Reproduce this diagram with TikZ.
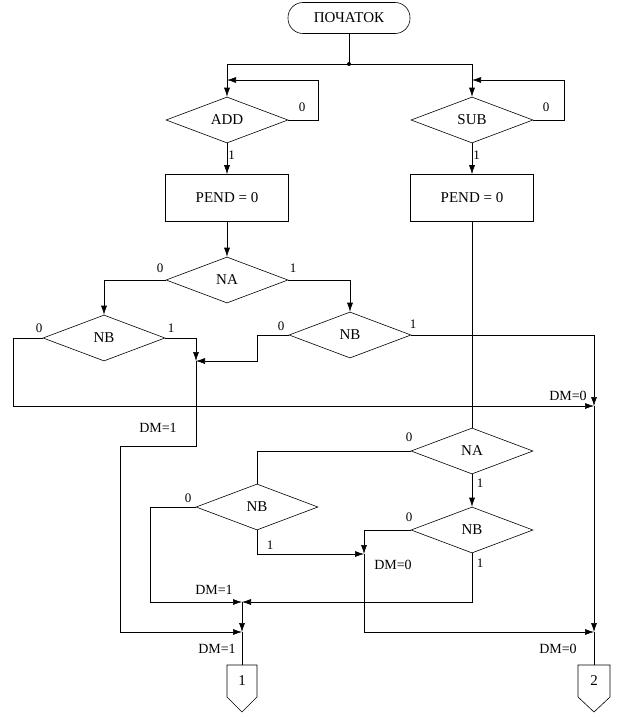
\documentclass[tikz,border=0pt]{standalone}
\usepackage{fontspec}
\setmainfont{Liberation Serif}
\usetikzlibrary{shapes,arrows.meta}

\tikzset{
  dec/.style={diamond, draw, aspect=2.6, inner sep=0pt, minimum width=122pt, minimum height=46pt},
  blok/.style={rectangle, draw, minimum width=123pt, minimum height=47pt},
  term/.style={rectangle, rounded corners=15pt, draw, minimum width=122pt, minimum height=31pt},
  lbl/.style={font=\fontsize{13}{15}\selectfont, inner sep=1pt},
  dm/.style={font=\fontsize{14}{16}\selectfont, inner sep=1pt}
}

\begin{document}
\begin{tikzpicture}[x=1pt,y=-1pt,line width=.6pt,>={Latex[length=9pt,width=6pt]},
    every node/.style={font=\fontsize{15}{17}\selectfont}]
    \useasboundingbox (0,0) rectangle (623,717);
    \node[term] (start) at (349,18) {ПОЧАТОК};
    \node[dec] (add) at (227,120) {ADD};
    \node[dec] (sub) at (472,120) {SUB};
    \node[blok] (pendA) at (227,198) {PEND = 0};
    \node[blok] (pendS) at (472,198) {PEND = 0};
    \node[dec] (naA) at (227,280) {NA};
    \node[dec] (nbL) at (104,338) {NB};
    \node[dec] (nbR) at (350,335) {NB};
    \node[dec] (naS) at (472,451) {NA};
    \node[dec] (nbM) at (257,507) {NB};
    \node[dec] (nbS) at (472,530) {NB};
    % junctions
    \coordinate (j0) at (349,64);
    \coordinate (addL) at (227,80);
    \coordinate (subL) at (472,80);
    \coordinate (jL) at (196,361);
    \coordinate (jR) at (594,406);
    \coordinate (jM) at (364,554);
    \coordinate (j1a) at (242,602);
    \coordinate (j1b) at (242,632);
    \coordinate (j2) at (594,632);
    \coordinate (k1) at (242,665);
    \coordinate (k2) at (594,665);
    % top
    \draw (start) -- (j0);
    \fill (j0) circle (2pt);
    \draw[->] (j0) -| (add.north);
    \draw[->] (j0) -| (sub.north);
    \draw[->] (add.east) -- (318,120) |- (addL);
    \draw[->] (sub.east) -- (564,120) |- (subL);
    \node[lbl] (z1) at (302,107) {0};
    \node[lbl] (z2) at (546,107) {0};
    \draw[->] (add.south) -- node[lbl,right,pos=.4] (o1) {1} (pendA.north);
    \draw[->] (sub.south) -- node[lbl,right,pos=.4] (o2) {1} (pendS.north);
    % left branch
    \draw[->] (pendA.south) -- (naA.north);
    \draw[->] (naA.west) -| (nbL.north);
    \draw[->] (naA.east) -| (nbR.north);
    \node[lbl] (z3) at (160,268) {0};
    \node[lbl] (o3) at (293,268) {1};
    \draw[->] (nbL.east) -| (jL);
    \draw[->] (nbR.west) -- (257,335) |- (jL);
    \draw[->] (jL) |- (120,446) -- (120,632) -- (j1b);
    \draw[->] (nbL.west) -- (13,338) |- (jR);
    \draw[->] (nbR.east) -| (jR);
    \draw[->] (jR) -- (j2);
    \node[lbl] (z4) at (39,328) {0};
    \node[lbl] (o4) at (171,328) {1};
    \node[lbl] (z5) at (281,326) {0};
    \node[lbl] (o5) at (413,324) {1};
    \node[dm] (dm1) at (158,428) {DM=1};
    \node[dm] (dm2) at (568,396) {DM=0};
    % right branch
    \draw (pendS.south) -- (naS.north);
    \draw (naS.west) -| (nbM.north);
    \draw[->] (naS.south) -- (nbS.north);
    \draw[->] (nbM.west) -- (150,507) |- (j1a);
    \draw[->] (nbM.south) |- (jM);
    \draw[->] (nbS.west) -| (jM);
    \draw[->] (nbS.south) |- (j1a);
    \draw[->] (j1a) -- (j1b);
    \draw[->] (jM) |- (j2);
    \node[lbl] (z6) at (409,437) {0};
    \node[lbl] (o6) at (480,483) {1};
    \node[lbl] (z7) at (188,498) {0};
    \node[lbl] (o7) at (270,545) {1};
    \node[lbl] (z8) at (409,517) {0};
    \node[lbl] (o8) at (480,563) {1};
    \node[dm] (dm3) at (214,590) {DM=1};
    \node[dm] (dm4) at (393,565) {DM=0};
    \node[dm] (dm5) at (217,649) {DM=1};
    \node[dm] (dm6) at (558,649) {DM=0};
    % off-page connectors
    \draw (j1b) -- (k1);
    \draw (j2) -- (k2);
    \draw (k1) -- ++(15,0) -- ++(0,32) -- ++(-15,15) -- ++(-15,-15) -- ++(0,-32) -- cycle;
    \draw (k2) -- ++(16,0) -- ++(0,32) -- ++(-16,15) -- ++(-16,-15) -- ++(0,-32) -- cycle;
    \node (c1) at (242,681) {1};
    \node (c2) at (594,681) {2};
\end{tikzpicture}
\end{document}
